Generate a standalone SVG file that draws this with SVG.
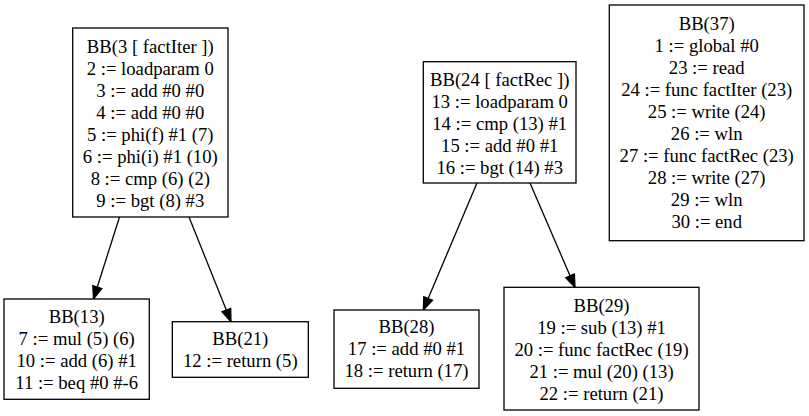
<svg xmlns="http://www.w3.org/2000/svg" width="809" height="416" viewBox="0 0 809 416">
<style>
rect.n{fill:#fff;stroke:#000;stroke-width:1.3}
text{font-family:"Liberation Serif","Times New Roman",serif;font-size:18.67px;fill:#000;text-anchor:middle}
.e{stroke:#000;stroke-width:1.3;fill:none;marker-end:url(#ah)}
</style>
<defs>
<marker id="ah" markerUnits="userSpaceOnUse" markerWidth="14" markerHeight="12" refX="13" refY="5" orient="auto" overflow="visible">
<path d="M0.5,0.3 L13,5 L0.5,9.7 Z" fill="#000" stroke="#000" stroke-width="1.3"/>
</marker>
</defs>
<rect width="809" height="416" fill="#fff"/>
<g id="connectors">
<line class="e" x1="119.5" y1="217" x2="93.5" y2="299"/>
<line class="e" x1="189" y1="217" x2="231" y2="321.7"/>
<line class="e" x1="477" y1="183" x2="423.3" y2="310"/>
<line class="e" x1="530" y1="183" x2="575" y2="287.3"/>
</g>
<g id="bb3">
<rect class="n" x="72.7" y="28" width="155.3" height="189"/>
<text x="150.3" y="52.7">BB(3 [ factIter ])</text>
<text x="150.3" y="74.7">2 := loadparam 0</text>
<text x="150.3" y="96.7">3 := add #0 #0</text>
<text x="150.3" y="118.7">4 := add #0 #0</text>
<text x="150.3" y="140.7">5 := phi(f) #1 (7)</text>
<text x="150.3" y="162.7">6 := phi(i) #1 (10)</text>
<text x="150.3" y="184.7">8 := cmp (6) (2)</text>
<text x="150.3" y="206.7">9 := bgt (8) #3</text>
</g>
<g id="bb24">
<rect class="n" x="423.3" y="61.7" width="152.7" height="121.3"/>
<text x="499.7" y="86.3">BB(24 [ factRec ])</text>
<text x="499.7" y="108.3">13 := loadparam 0</text>
<text x="499.7" y="130.3">14 := cmp (13) #1</text>
<text x="499.7" y="152.3">15 := add #0 #1</text>
<text x="499.7" y="174.3">16 := bgt (14) #3</text>
</g>
<g id="bb37">
<rect class="n" x="609.3" y="5" width="194.7" height="235.7"/>
<text x="706.7" y="30">BB(37)</text>
<text x="706.7" y="52">1 := global #0</text>
<text x="706.7" y="74">23 := read</text>
<text x="706.7" y="96">24 := func factIter (23)</text>
<text x="706.7" y="118">25 := write (24)</text>
<text x="706.7" y="140">26 := wln</text>
<text x="706.7" y="162">27 := func factRec (23)</text>
<text x="706.7" y="184">28 := write (27)</text>
<text x="706.7" y="206">29 := wln</text>
<text x="706.7" y="228">30 := end</text>
</g>
<g id="bb13">
<rect class="n" x="4" y="299" width="145.3" height="100.3"/>
<text x="76.7" y="323.3">BB(13)</text>
<text x="76.7" y="345.3">7 := mul (5) (6)</text>
<text x="76.7" y="367.3">10 := add (6) #1</text>
<text x="76.7" y="389.3">11 := beq #0 #-6</text>
</g>
<g id="bb21">
<rect class="n" x="172.3" y="321.7" width="136" height="55.6"/>
<text x="240.3" y="345">BB(21)</text>
<text x="240.3" y="367">12 := return (5)</text>
</g>
<g id="bb28">
<rect class="n" x="334" y="310" width="145" height="78.3"/>
<text x="406.5" y="333.3">BB(28)</text>
<text x="406.5" y="355.3">17 := add #0 #1</text>
<text x="406.5" y="377.3">18 := return (17)</text>
</g>
<g id="bb29">
<rect class="n" x="504" y="287.3" width="195" height="122.7"/>
<text x="601.5" y="311.7">BB(29)</text>
<text x="601.5" y="333.7">19 := sub (13) #1</text>
<text x="601.5" y="355.7">20 := func factRec (19)</text>
<text x="601.5" y="377.7">21 := mul (20) (13)</text>
<text x="601.5" y="399.7">22 := return (21)</text>
</g>
</svg>
